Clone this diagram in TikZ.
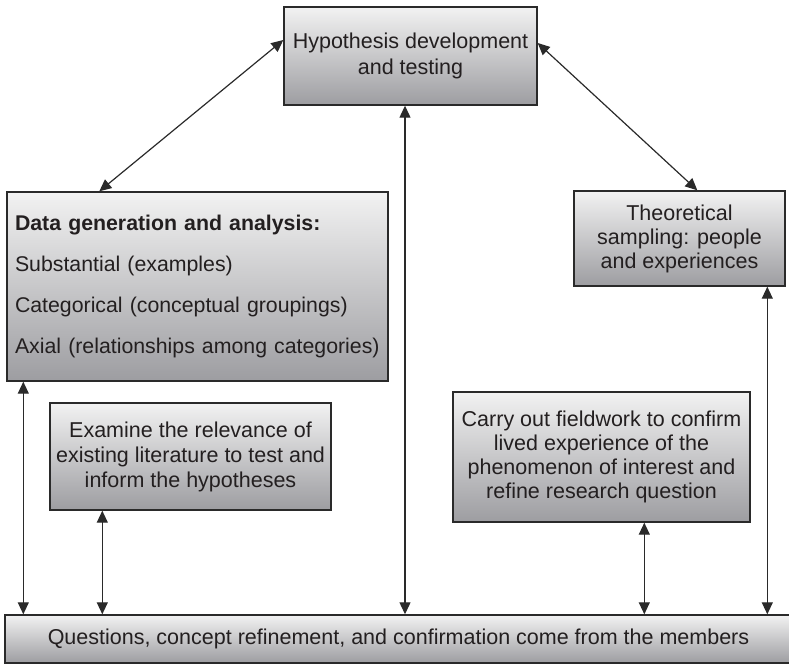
\documentclass[tikz,border=0pt]{standalone}
\usepackage{fontspec}
\setmainfont{Liberation Sans}
\usetikzlibrary{arrows.meta,calc}
\definecolor{topg}{HTML}{F2F2F2}
\definecolor{botg}{HTML}{9D9DA1}
\definecolor{edgeg}{HTML}{2A2A2A}
\definecolor{txt}{HTML}{231F20}
\begin{document}
\begin{tikzpicture}[x=1pt,y=1pt,
  box/.style={draw=edgeg, line width=1.4pt, top color=topg, bottom color=botg,
    inner sep=0pt, align=center, text=txt,
    font=\fontsize{21.5}{24}\selectfont},
  link/.style={line width=1.2pt, draw=edgeg,
    {Triangle[length=12pt,width=11pt]}-{Triangle[length=12pt,width=11pt]}}]
\useasboundingbox (0,0) rectangle (789,664);
\begin{scope}
\clip (0,0) rectangle (789,664);
\node[box, minimum width=253pt, minimum height=98pt, font=\fontsize{21.5}{26}\selectfont] (H) at (410.5,608) {Hypothesis development\\and testing};
\node[box, minimum width=381pt, minimum height=189pt, align=left, text width=371pt, inner xsep=5pt, font=\fontsize{21.3}{24}\selectfont] (D) at (197.5,377.5)
  {\hspace*{3pt}\textbf{Data generation and analysis:}\\[17pt]\hspace*{3pt}Substantial (examples)\\[17pt]\hspace*{3pt}Categorical (conceptual groupings)\\[17pt]\hspace*{3pt}Axial (relationships among categories)};
\node[box, minimum width=211pt, minimum height=95pt] (T) at (679.5,425.5) {Theoretical\\sampling: people\\and experiences};
\node[box, minimum width=297pt, minimum height=130pt] (C) at (601.5,207) {Carry out fieldwork to confirm\\lived experience of the\\phenomenon of interest and\\refine research question};
\node[box, minimum width=281pt, minimum height=107pt, font=\fontsize{21.5}{25}\selectfont] (E) at (190.5,207.5) {Examine the relevance of\\existing literature to test and\\inform the hypotheses};
\node[box, minimum width=787pt, minimum height=48pt] (B) at (398.5,25) {Questions, concept refinement, and confirmation come from the members};
\end{scope}
\draw[link] ([xshift=93pt]D.north west) -- ([yshift=16pt]H.west);
\draw[link] ([yshift=13pt]H.east) -- ([xshift=124pt]T.north west);
\draw[link] ([xshift=-5.5pt]H.south) -- ([xshift=-5.5pt]H.south |- B.north);
\draw[link] ([xshift=17pt]D.south west) -- ([xshift=17pt]D.south west |- B.north);
\draw[link] ([xshift=53pt]E.south west) -- ([xshift=53pt]E.south west |- B.north);
\draw[link] ([xshift=192pt]C.south west) -- ([xshift=192pt]C.south west |- B.north);
\draw[link] ([xshift=194pt]T.south west) -- ([xshift=194pt]T.south west |- B.north);
\end{tikzpicture}
\end{document}
